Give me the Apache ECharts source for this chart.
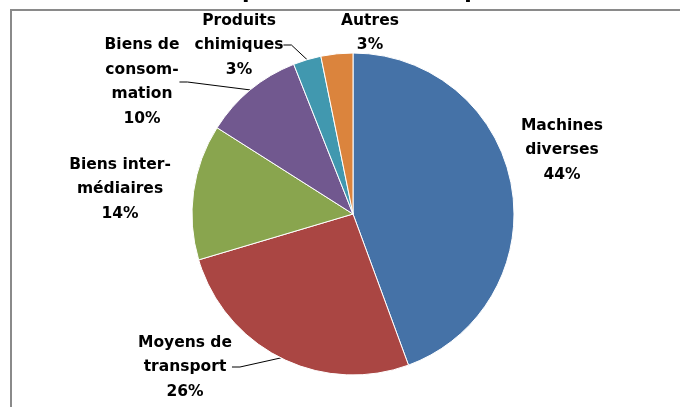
<!DOCTYPE html>
<html>
<head>
<meta charset="utf-8">
<script src="https://cdn.jsdelivr.net/npm/echarts@6/dist/echarts.min.js"></script>
<style>html,body{margin:0;padding:0;background:#fff}#c{width:680px;height:407px}</style>
</head>
<body>
<div id="c"></div>
<script>
const titleText = "Exportations techniques";
const categories = ["Machines diverses", "Moyens de transport", "Biens intermédiaires", "Biens de consommation", "Produits chimiques", "Autres"];
const labelTexts = ["Machines\ndiverses", "Moyens de\ntransport", "Biens inter-\nmédiaires", "Biens de\nconsom-\nmation", "Produits\nchimiques", "Autres"];
const values = [44.4, 26.0, 13.6, 10.0, 2.8, 3.2];
const colors = ["#4572A7", "#AA4643", "#89A54E", "#71588F", "#4198AF", "#DB843D"];
const labelPos = [[562, 150], [185, 367], [120, 189], [142, 82], [239, 45], [370, 33]];
const withLine = [false, true, false, true, true, false];

const chart = echarts.init(document.getElementById('c'));
chart.setOption({
  animation: false,
  graphic: [
    { type: 'text', z: 1, style: { x: 364, y: 3, text: titleText, align: 'center', verticalAlign: 'bottom',
      font: 'bold 22px "DejaVu Sans"', fill: '#000' } },
    { type: 'rect', z: 10, silent: true, shape: { x: 11, y: 10, width: 720, height: 450 },
      style: { fill: null, stroke: '#8a8a8a', lineWidth: 2 } }
  ],
  series: [{
    type: 'pie',
    center: [353, 214],
    radius: 161,
    startAngle: 90,
    clockwise: true,
    avoidLabelOverlap: false,
    itemStyle: { borderColor: '#ffffff', borderWidth: 1 },
    label: {
      show: true,
      fontFamily: 'DejaVu Sans',
      fontWeight: 'bold',
      fontSize: 15.5,
      lineHeight: 24.5,
      color: '#000',
      align: 'center',
      formatter: p => labelTexts[p.dataIndex] + '\n' + Math.round(p.value) + '%'
    },
    labelLine: { show: true, length: 8, length2: 8, smooth: false, lineStyle: { color: '#000', width: 1 } },
    labelLayout: p => ({ x: labelPos[p.dataIndex][0], y: labelPos[p.dataIndex][1], align: 'center', verticalAlign: 'middle' }),
    data: categories.map((c, i) => ({
      name: c, value: values[i], itemStyle: { color: colors[i] },
      labelLine: { show: withLine[i] }
    }))
  }]
});
</script>
</body>
</html>
